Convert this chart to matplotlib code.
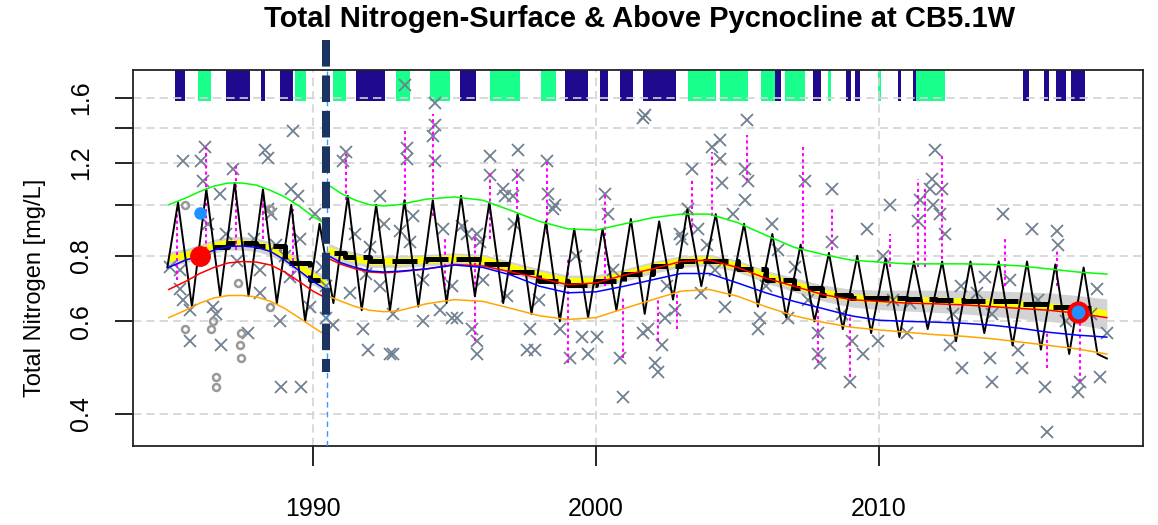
import numpy as np
import matplotlib
matplotlib.use("Agg")
import matplotlib.pyplot as plt
from matplotlib.ticker import FixedLocator, NullLocator, FixedFormatter

plt.rcParams['font.family'] = ['Liberation Sans', 'DejaVu Sans']

# flow indicator bars along the top (start year, end year, class)
flow_bars = [
    (1985.11, 1985.47, 'hi'), (1985.94, 1986.40, 'lo'), (1986.94, 1987.76, 'hi'),
    (1988.17, 1988.29, 'hi'), (1988.82, 1989.29, 'hi'), (1989.35, 1989.76, 'lo'),
    (1990.71, 1991.18, 'lo'), (1991.53, 1992.53, 'hi'), (1992.94, 1993.42, 'lo'),
    (1994.12, 1994.83, 'lo'), (1995.18, 1995.77, 'hi'), (1996.24, 1997.30, 'lo'),
    (1998.07, 1998.60, 'lo'), (1998.89, 1999.72, 'hi'), (2000.13, 2000.42, 'hi'),
    (2000.84, 2001.31, 'hi'), (2001.66, 2002.84, 'hi'), (2003.25, 2004.25, 'lo'),
    (2004.37, 2005.37, 'lo'), (2005.84, 2006.31, 'lo'), (2006.31, 2006.55, 'hi'),
    (2006.67, 2007.37, 'lo'), (2007.67, 2007.96, 'hi'), (2008.20, 2008.29, 'lo'),
    (2008.84, 2009.02, 'hi'), (2009.14, 2009.32, 'hi'), (2009.96, 2010.06, 'lo'),
    (2010.67, 2010.79, 'hi'), (2011.20, 2011.32, 'hi'), (2011.32, 2012.32, 'lo'),
    (2015.09, 2015.29, 'hi'), (2015.83, 2016.00, 'hi'), (2016.27, 2016.62, 'hi'),
    (2016.80, 2017.27, 'hi'),
]

# observations (x markers)
obs_year = [1985.41, 1986.17, 1986.05, 1986.11, 1987.17, 1988.29, 1988.41, 1989.29, 1989.23, 1989.47,
            1986.70, 1988.41, 1988.53, 1986.94, 1988.12, 1988.70, 1989.53, 1990.06, 1984.94, 1985.41,
            1985.64, 1986.47, 1986.58, 1985.64, 1986.76, 1987.70, 1988.82, 1988.88, 1989.59, 1990.47,
            1990.71, 1991.18, 1991.06, 1992.36, 1991.77, 1991.94, 1992.71, 1990.47, 1991.88, 1992.36,
            1988.12, 1985.29, 1989.18, 1989.88, 1985.30, 1986.30, 1987.30, 1987.90, 1989.00, 1990.30,
            1991.30, 1991.50, 1992.00, 1992.50,
            1994.31, 1994.31, 1994.25, 1993.31, 1993.31, 1994.31, 1996.25, 1997.25, 1996.25, 1997.25,
            1998.26, 1998.31, 1998.55, 1996.78, 1997.08, 2001.67, 2000.32, 2000.44, 1993.54, 1993.07,
            1995.78, 1995.25, 1994.60, 1993.43, 1995.90, 1992.84, 1993.90, 1994.90, 1995.08, 1995.61,
            1995.78, 1995.78, 1992.84, 1997.55, 1997.84, 1997.67, 1998.73, 1999.08, 1999.73, 1999.49,
            2000.02, 2000.85, 2000.97, 2001.67, 1996.84, 1994.49, 1994.90, 1995.43, 1996.72, 1998.49,
            1993.25, 1997.10, 1993.90, 1996.00, 1998.00, 1999.30, 2000.60,
            2001.73, 2005.32, 2004.38, 2004.09, 2004.38, 2003.38, 2005.27, 2005.38, 2004.44, 2007.38,
            2008.33, 2003.26, 2005.27, 2010.39, 2009.56, 2006.21, 2002.97, 2003.62, 2004.85, 2008.33,
            2010.15, 2001.85, 2002.32, 2002.20, 2002.08, 2002.79, 2002.44, 2004.56, 2005.74, 2005.80,
            2006.80, 2007.86, 2007.92, 2007.86, 2008.98, 2009.45, 2009.04, 2009.98, 2006.44, 2007.03,
            2003.03, 2003.91, 2002.50, 2004.20, 2006.00, 2007.50, 2008.70, 2003.70,
            2011.98, 2011.86, 2011.80, 2012.22, 2011.92, 2011.45, 2012.16, 2011.39, 2012.33, 2014.39,
            2015.40, 2016.28, 2016.34, 2013.75, 2017.69, 2012.51, 2012.92, 2013.92, 2013.98, 2014.92,
            2015.04, 2015.87, 2017.10, 2017.04, 2017.81, 2015.92, 2018.04, 2010.98, 2013.45, 2014.63,
            2012.63, 2011.10, 2012.90, 2014.00, 2015.60, 2016.60, 2017.50, 2010.50]
obs_val = [1.21, 1.29, 1.21, 1.11, 1.17, 1.27, 1.23, 1.38, 1.07, 1.04,
           1.05, 0.98, 0.96, 0.88, 0.75, 0.84, 0.86, 0.96, 0.76, 0.66,
           0.63, 0.64, 0.62, 0.55, 0.54, 0.57, 0.60, 0.45, 0.45, 0.61,
           0.59, 1.26, 1.21, 1.04, 0.58, 0.53, 0.52, 0.70, 0.74, 0.70,
           0.68, 0.69, 0.73, 0.64, 0.75, 0.92, 0.78, 0.86, 0.80, 0.76,
           0.68, 0.88, 0.83, 0.92,
           1.56, 1.42, 1.35, 1.28, 1.22, 1.21, 1.24, 1.27, 1.14, 1.14,
           1.21, 1.05, 1.00, 1.04, 1.04, 1.46, 1.05, 0.96, 0.95, 0.89,
           0.88, 0.91, 0.90, 0.85, 0.85, 0.62, 0.60, 0.61, 0.61, 0.58,
           0.55, 0.52, 0.52, 0.53, 0.53, 0.58, 0.58, 0.51, 0.52, 0.56,
           0.56, 0.51, 0.43, 0.57, 0.67, 0.63, 0.70, 0.88, 1.07, 0.98,
           1.69, 0.92, 0.72, 0.72, 0.66, 0.80, 0.75,
           1.48, 1.45, 1.33, 1.29, 1.22, 1.17, 1.17, 1.11, 1.10, 1.11,
           1.07, 0.98, 1.02, 1.00, 0.90, 0.92, 0.88, 0.90, 0.96, 0.85,
           0.80, 0.58, 0.54, 0.48, 0.50, 0.63, 0.61, 0.64, 0.58, 0.61,
           0.61, 0.57, 0.50, 0.52, 0.46, 0.52, 0.55, 0.55, 0.82, 0.76,
           0.86, 0.84, 0.70, 0.75, 0.70, 0.66, 0.62, 0.68,
           1.27, 1.12, 1.07, 1.07, 1.00, 1.02, 0.96, 0.93, 0.88, 0.96,
           0.90, 0.89, 0.84, 0.73, 0.69, 0.54, 0.49, 0.51, 0.46, 0.53,
           0.49, 0.45, 0.46, 0.44, 0.47, 0.37, 0.57, 0.57, 0.68, 0.72,
           0.62, 0.65, 0.70, 0.62, 0.66, 0.60, 0.62, 0.66]

# censored / flagged observations (open circles)
circ_year = [1985.46, 1985.46, 1986.47, 1986.41, 1986.58, 1986.58, 1987.35, 1987.47, 1987.41, 1987.47, 1988.47, 1988.47]
circ_val = [1.00, 0.58, 0.60, 0.58, 0.47, 0.45, 0.71, 0.57, 0.54, 0.51, 0.64, 0.98]

# magenta dotted ranges (year, low, high)
mag_segs = [(1985.20, 0.72, 1.00), (1986.23, 0.80, 1.29), (1987.29, 0.82, 1.19), (1988.23, 0.86, 1.07),
            (1989.30, 0.72, 0.98), (1991.18, 1.02, 1.25), (1993.25, 0.98, 1.38), (1994.25, 0.95, 1.49),
            (1995.72, 0.55, 0.88), (1996.25, 0.86, 1.15), (1997.20, 0.98, 1.17), (1998.26, 0.88, 1.22),
            (1999.02, 0.50, 0.79), (2000.32, 0.70, 1.05), (2000.97, 0.51, 0.67), (1994.66, 0.70, 0.86),
            (2005.32, 1.11, 1.36), (2004.09, 0.95, 1.26), (2003.38, 0.88, 1.12), (2007.33, 0.82, 1.29),
            (2008.33, 0.82, 0.98), (2010.39, 0.76, 0.88), (2002.20, 0.55, 0.66), (2002.85, 0.58, 0.68),
            (2008.98, 0.47, 0.62), (2007.86, 0.50, 0.64), (2011.39, 0.76, 1.12), (2011.63, 0.76, 1.08),
            (2012.22, 0.79, 1.25), (2014.45, 0.70, 0.86), (2016.28, 0.70, 0.82), (2017.10, 0.46, 0.61),
            (2015.92, 0.49, 0.57)]

# seasonal model: yearly peak (spring) and trough (late summer)
zig_years = list(range(1985, 2018))
zig_peak = [1.01, 1.07, 1.10, 1.07, 1.00, 0.92, 1.04, 1.00, 1.02, 1.02,
            1.04, 1.01, 0.96, 0.93, 0.90, 0.90, 0.94, 0.93, 0.98, 0.96,
            0.92, 0.88, 0.84, 0.81, 0.80, 0.79, 0.78, 0.78, 0.78, 0.78,
            0.78, 0.77, 0.76]
zig_trough = [0.64, 0.67, 0.67, 0.65, 0.60, 0.65, 0.63, 0.63, 0.64, 0.65,
              0.67, 0.65, 0.62, 0.60, 0.61, 0.63, 0.62, 0.66, 0.70, 0.67,
              0.64, 0.61, 0.60, 0.58, 0.57, 0.56, 0.58, 0.55, 0.57, 0.54,
              0.53, 0.52, 0.52]
zig_start = (1984.85, 0.76)
zig_end = (2018.05, 0.51)
peak_phase, trough_phase = 0.23, 0.72

# smooth trends before the method change
yr_pre = [1984.9, 1985.5, 1986.0, 1986.5, 1987.0, 1987.5, 1988.0, 1988.5, 1989.0, 1989.5, 1990.0, 1990.45]
green_pre = [1.0, 1.03, 1.06, 1.085, 1.10, 1.10, 1.09, 1.065, 1.035, 0.995, 0.95, 0.92]
red_pre = [0.69, 0.715, 0.74, 0.76, 0.775, 0.78, 0.778, 0.768, 0.745, 0.715, 0.685, 0.665]
blue_pre = [0.76, 0.785, 0.80, 0.82, 0.833, 0.835, 0.83, 0.815, 0.785, 0.75, 0.715, 0.69]
orange_pre = [0.61, 0.63, 0.65, 0.665, 0.672, 0.672, 0.668, 0.655, 0.635, 0.61, 0.585, 0.565]
yellow_pre = [0.79, 0.80, 0.815, 0.835, 0.845, 0.845, 0.84, 0.825, 0.80, 0.765, 0.73, 0.705]
ci_pre = [0.025] * 12

# smooth trends after the method change
yr_post = [1990.55, 1991, 1991.5, 1992, 1992.5] + list(range(1993, 2018)) + [2018.05]
green_post = [1.09, 1.05, 1.02, 1.0, 0.995,
              1.0, 1.025, 1.035, 1.02, 0.975, 0.93, 0.90, 0.895, 0.92, 0.945, 0.96, 0.96, 0.925,
              0.875, 0.83, 0.805, 0.785, 0.778, 0.772, 0.772, 0.772, 0.77, 0.765, 0.755, 0.745, 0.738]
red_post = [0.79, 0.77, 0.755, 0.745, 0.742,
            0.745, 0.755, 0.77, 0.765, 0.745, 0.725, 0.705, 0.71, 0.735, 0.755, 0.78, 0.785, 0.76,
            0.725, 0.70, 0.675, 0.66, 0.655, 0.65, 0.648, 0.645, 0.64, 0.635, 0.63, 0.622, 0.61]
blue_post = [0.80, 0.775, 0.76, 0.748, 0.745,
             0.747, 0.755, 0.768, 0.76, 0.735, 0.70, 0.68, 0.683, 0.70, 0.72, 0.74, 0.74, 0.71,
             0.68, 0.655, 0.635, 0.615, 0.603, 0.60, 0.598, 0.595, 0.59, 0.582, 0.572, 0.565, 0.56]
orange_post = [0.67, 0.655, 0.64, 0.63, 0.626,
               0.628, 0.648, 0.66, 0.655, 0.635, 0.615, 0.605, 0.61, 0.635, 0.66, 0.685, 0.69, 0.67,
               0.64, 0.615, 0.598, 0.585, 0.578, 0.572, 0.566, 0.562, 0.556, 0.548, 0.54, 0.532, 0.52]
yellow_post = [0.82, 0.80, 0.79, 0.78, 0.78,
               0.78, 0.785, 0.79, 0.785, 0.76, 0.735, 0.715, 0.715, 0.735, 0.76, 0.78, 0.785, 0.765,
               0.73, 0.705, 0.68, 0.665, 0.66, 0.658, 0.656, 0.654, 0.65, 0.645, 0.64, 0.632, 0.62]
ci_post = [0.025, 0.025, 0.022, 0.02, 0.02] + [0.02] * 14 + \
          [0.022, 0.024, 0.026, 0.028, 0.03, 0.032, 0.034, 0.036, 0.038, 0.04, 0.04, 0.042]

# annual means (thick black dashes)
ann_pre_year = [1986.5, 1987.5, 1988.5, 1989.5, 1990.25]
ann_pre = [0.83, 0.845, 0.835, 0.775, 0.72]
ann_post_year = [1990.75] + [y + 0.5 for y in range(1991, 2018)]
ann_post = [0.81, 0.795, 0.78, 0.78, 0.79, 0.79, 0.77, 0.745, 0.715, 0.705, 0.715, 0.74, 0.765, 0.78,
            0.78, 0.755, 0.72, 0.695, 0.675, 0.665, 0.665, 0.662, 0.66, 0.655, 0.655, 0.648, 0.64, 0.635]

# highlighted points
start_obs = (1986.0, 0.80)
start_obs2 = (1986.0, 0.965)
end_obs = (2017.04, 0.625)
break_year = 1990.45

NAVY = '#1f0a8f'
SPRING = '#19ff8c'
bar_colors = {'hi': NAVY, 'lo': SPRING}

fig = plt.figure(figsize=(11.58, 5.25), dpi=100)
ax = fig.add_axes([0.1149, 0.1505, 0.8722, 0.7162])
ax.set_yscale('log')
ax.set_xlim(1983.64, 2019.33)
ax.set_ylim(0.3476, 1.805)

for s, e, c in flow_bars:
    ax.axvspan(s, e, ymin=0.9176, ymax=1.0, color=bar_colors[c], lw=0, zorder=1)

for gx in [1990, 2000, 2010]:
    ax.axvline(gx, color='#d3d3d3', lw=1.2, ls=(0, (5, 3)), zorder=1.5)
for gy in [0.4, 0.6, 0.8, 1.0, 1.2, 1.4, 1.6]:
    ax.axhline(gy, color='#d3d3d3', lw=1.2, ls=(0, (5, 3)), zorder=1.5)

# confidence band + yellow trend
for yrs, yel, ci in [(yr_pre, yellow_pre, ci_pre), (yr_post, yellow_post, ci_post)]:
    yel = np.array(yel)
    ci = np.array(ci)
    ax.fill_between(yrs, yel - ci, yel + ci, color='#d3d3d3', lw=0, zorder=2)
    ax.plot(yrs, yel, color='yellow', lw=5, zorder=2.2, solid_capstyle='butt')

ax.plot(obs_year, obs_val, 'x', color='#708090', ms=8, mew=1.3, zorder=3)
ax.plot(circ_year, circ_val, 'o', mfc='none', mec='#999999', ms=5, mew=1.8, zorder=3)

for yr, lo, hi in mag_segs:
    ax.plot([yr, yr], [lo, hi], color='#ff00ff', lw=1.5, ls=(0, (1.5, 1.5)), zorder=3.2)

zx = [zig_start[0]]
zy = [zig_start[1]]
for yr, pk, tr in zip(zig_years, zig_peak, zig_trough):
    zx += [yr + peak_phase, yr + trough_phase]
    zy += [pk, tr]
zx.append(zig_end[0])
zy.append(zig_end[1])
ax.plot(zx, zy, color='black', lw=1.4, zorder=3.5)

ax.plot(ann_pre_year, ann_pre, color='black', lw=3.6, ls=(0, (5, 1.6)), drawstyle='steps-mid', zorder=3.8)
ax.plot(ann_post_year, ann_post, color='black', lw=3.6, ls=(0, (5, 1.6)), drawstyle='steps-mid', zorder=3.8)

for yrs, vals, col in [(yr_pre, red_pre, 'red'), (yr_post, red_post, 'red'),
                       (yr_pre, blue_pre, 'blue'), (yr_post, blue_post, 'blue'),
                       (yr_pre, green_pre, '#00ff00'), (yr_post, green_post, '#00ff00'),
                       (yr_pre, orange_pre, 'orange'), (yr_post, orange_post, 'orange')]:
    ax.plot(yrs, vals, color=col, lw=1.1, zorder=4)

ax.plot(*start_obs, 'o', color='red', ms=14, zorder=5)
ax.plot(*start_obs2, 'o', color='#1e90ff', ms=8, zorder=5)
ax.plot(*end_obs, 'o', mfc='#1e90ff', mec='red', mew=3, ms=13, zorder=5)

# method change line
ax.plot([break_year + 0.05, break_year + 0.05], [0.3476, 1.805], color='#3399ff', lw=1,
        ls=(0, (4, 3)), zorder=5.5)
ax.plot([break_year, break_year], [2.06, 0.48], color='#1c3461', lw=5.8, ls=(0, (3.3, 1.1)),
        zorder=6, clip_on=False)

ax.yaxis.set_major_locator(FixedLocator([0.4, 0.6, 0.8, 1.0, 1.2, 1.4, 1.6]))
ax.yaxis.set_major_formatter(FixedFormatter(['0.4', '0.6', '0.8', '', '1.2', '', '1.6']))
ax.yaxis.set_minor_locator(NullLocator())
ax.set_xticks([1990, 2000, 2010])
ax.set_xticklabels(['1990', '2000', '2010'])
for lab in ax.get_yticklabels():
    lab.set_rotation(90)
    lab.set_va('center')
ax.tick_params(axis='x', length=14.5, width=1.2, pad=22, labelsize=18)
ax.tick_params(axis='y', length=13, width=1.2, pad=16, labelsize=18)
for sp in ax.spines.values():
    sp.set_linewidth(1.3)
    sp.set_color('#222222')

fig.text(0.5527, 0.963, 'Total Nitrogen-Surface & Above Pycnocline at CB5.1W',
         ha='center', va='center', fontsize=21, fontweight='bold')
fig.text(0.030, 0.4514, 'Total Nitrogen [mg/L]', rotation=90, ha='center', va='center', fontsize=17)

fig.savefig('out.png', dpi=100)
